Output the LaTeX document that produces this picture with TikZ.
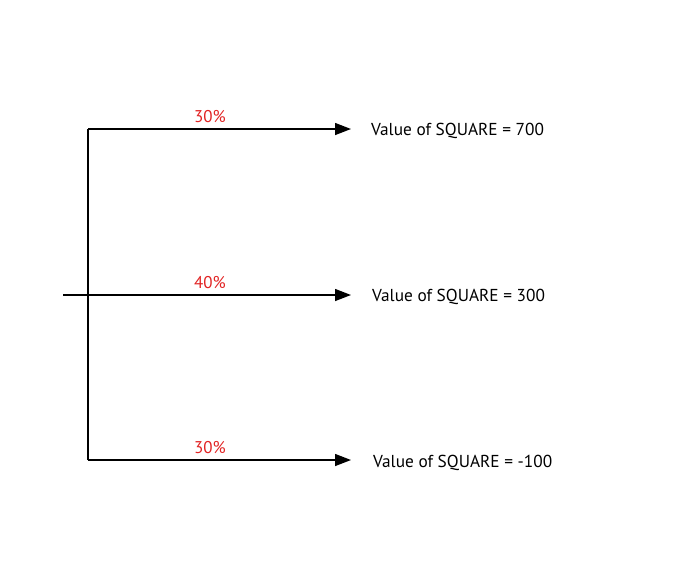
\documentclass[tikz,border=0pt]{standalone}
\usepackage{fontspec}
\setmainfont{PT Sans}
\usetikzlibrary{arrows.meta}
\definecolor{pct}{RGB}{225,35,35}
\begin{document}
\begin{tikzpicture}[x=1pt,y=-1pt,
  conn/.style={line width=1.4pt,black},
  arr/.style={conn,-{Triangle[length=16pt,width=12pt]}},
  outtxt/.style={anchor=west,inner sep=0pt,font=\fontsize{17.3}{19}\selectfont},
  pcttxt/.style={inner sep=0pt,text=pct,font=\fontsize{17}{19}\selectfont}]
\useasboundingbox (0,0) rectangle (696,574);
\coordinate (s) at (63,295);
\coordinate (top) at (88,129);
\coordinate (bot) at (88,460);
\coordinate (e1) at (351,129);
\coordinate (e2) at (351,295);
\coordinate (e3) at (351,460);
\node[outtxt] (t1) at (371,131) {Value of SQUARE = 700};
\node[outtxt] (t2) at (372,297) {Value of SQUARE = 300};
\node[outtxt] (t3) at (373,463) {Value of SQUARE = -100};
\node[pcttxt] (p1) at (210,117) {30\%};
\node[pcttxt] (p2) at (210,283) {40\%};
\node[pcttxt] (p3) at (210,448) {30\%};
\draw[conn] (bot) -- (top);
\draw[arr] (top) -- (e1);
\draw[arr] (s) -- (e2);
\draw[arr] (bot) -- (e3);
\end{tikzpicture}
\end{document}
